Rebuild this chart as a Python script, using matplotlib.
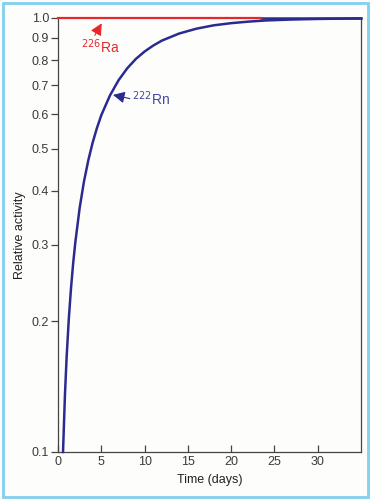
import numpy as np
import matplotlib
matplotlib.use('Agg')
import matplotlib.pyplot as plt
from matplotlib.patches import Rectangle
from matplotlib.ticker import FixedLocator, NullLocator

plt.rcParams['font.family'] = ['Liberation Sans', 'DejaVu Sans']

# values
t_rn = [0.58, 0.8, 1.0, 1.25, 1.5, 1.75, 2.0, 2.5, 3.0, 3.5, 4.0, 4.5, 5.0, 6.0, 7.0,
        8.0, 9.0, 10, 11, 12, 14, 16, 18, 20, 22, 24, 27, 30, 35]
rn = [0.100, 0.135, 0.166, 0.203, 0.238, 0.272, 0.304, 0.365, 0.420, 0.470, 0.516,
      0.558, 0.597, 0.663, 0.719, 0.766, 0.805, 0.837, 0.864, 0.887, 0.921, 0.945,
      0.962, 0.973, 0.981, 0.987, 0.992, 0.995, 0.998]
t_ra = [0, 23.5]
ra = [1.0, 1.0]

y_ticks = [0.1, 0.2, 0.3, 0.4, 0.5, 0.6, 0.7, 0.8, 0.9, 1.0]
x_ticks = [0, 5, 10, 15, 20, 25, 30]

red = '#e8262c'
blue = '#2b2b8f'
axcol = '#444444'

fig = plt.figure(figsize=(3.71, 5.0), dpi=100, facecolor='#fdfefc')
fig.patches.append(Rectangle((0.009, 0.006), 0.982, 0.988, transform=fig.transFigure,
                             fill=False, edgecolor='#80d0ee', linewidth=2))
ax = fig.add_axes([58/371, 48/500, 303/371, 434/500])
ax.set_facecolor('#fdfefc')

ax.plot(t_rn, rn, color=blue, lw=1.8, clip_on=False, zorder=3)
ax.plot([23.5, 35], [1.0, 1.0], color=blue, lw=1.8, clip_on=False, zorder=3)
ax.plot(t_ra, ra, color=red, lw=1.6, clip_on=False, zorder=4)

ax.set_yscale('log')
ax.set_ylim(0.1, 1.0)
ax.set_xlim(0, 35)
ax.yaxis.set_major_locator(FixedLocator(y_ticks))
ax.yaxis.set_minor_locator(NullLocator())
ax.set_yticklabels(['%.1f' % v for v in y_ticks])
ax.set_xticks(x_ticks)

for s in ['left', 'bottom', 'right']:
    ax.spines[s].set_color(axcol)
    ax.spines[s].set_linewidth(0.9)
ax.spines['top'].set_visible(False)
ax.tick_params(axis='y', direction='out', length=5, width=0.9, color=axcol,
               labelsize=9, labelcolor='#3a3a3a', pad=1.5)
ax.tick_params(axis='x', direction='in', length=5, width=0.9, color=axcol,
               labelsize=9, labelcolor='#3a3a3a', pad=3)

ax.set_xlabel('Time (days)', fontsize=9, color='#222222', labelpad=4)
ax.set_ylabel('Relative activity', fontsize=9, color='#222222', labelpad=4)

arr = dict(arrowstyle='-|>,head_length=0.7,head_width=0.35', lw=0.8,
           shrinkA=0, shrinkB=0)
ax.annotate('', xy=(5.05, 0.972), xytext=(4.25, 0.912),
            arrowprops=dict(arr, color=red))
ax.text(4.9, 0.858, r'$^{226}$Ra', color=red, fontsize=10, ha='center', va='center')
ax.annotate('', xy=(6.35, 0.665), xytext=(8.3, 0.652),
            arrowprops=dict(arr, color=blue))
ax.text(8.6, 0.652, r'$^{222}$Rn', color='#4646a0', fontsize=10, ha='left', va='center')

fig.savefig('out.png', dpi=100, facecolor=fig.get_facecolor())
